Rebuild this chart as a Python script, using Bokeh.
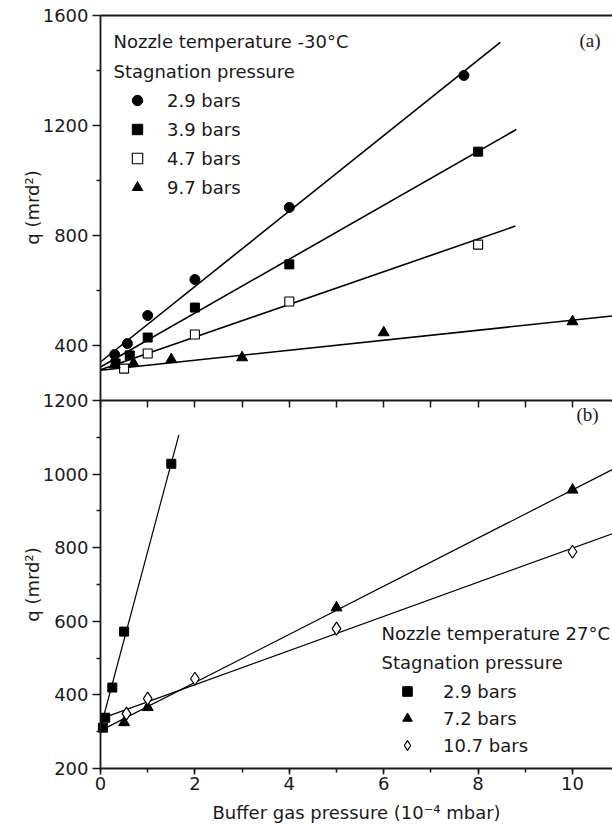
import numpy as np
from bokeh.plotting import figure
from bokeh.models import (Range1d, LinearAxis, FixedTicker, SingleIntervalTicker,
                          Legend, LegendItem, Label)
from bokeh.embed import file_html
from bokeh.resources import INLINE

# ---------------- data ----------------
# Panel (a): nozzle temperature -30 C
a29_x = [0.3, 0.57, 1.0, 2.0, 4.0, 7.7]
a29_y = [367, 407, 509, 640, 902, 1382]
a39_x = [0.32, 0.62, 1.0, 2.0, 4.0, 8.0]
a39_y = [335, 364, 429, 538, 695, 1105]
a47_x = [0.5, 1.0, 2.0, 4.0, 8.0]
a47_y = [316, 371, 440, 560, 767]
a97_x = [0.3, 0.7, 1.5, 3.0, 6.0, 10.0]
a97_y = [330, 335, 349, 356, 447, 487]
# linear fits (intercept, slope, x extent)
a_fit_int = [340, 322, 312, 310]
a_fit_slope = [137.2, 98.0, 59.4, 18.2]
a_fit_x0 = [0.0, 0.0, 0.0, 0.0]
a_fit_x1 = [8.47, 8.81, 8.79, 10.85]

# Panel (b): nozzle temperature 27 C
b29_x = [0.05, 0.1, 0.25, 0.5, 1.5]
b29_y = [311, 338, 420, 572, 1028]
b72_x = [0.5, 1.0, 5.0, 10.0]
b72_y = [325, 366, 637, 957]
b107_x = [0.55, 1.0, 2.0, 5.0, 10.0]
b107_y = [349, 390, 444, 580, 789]
b_fit_int = [310, 303, 335]
b_fit_slope = [480.0, 65.4, 46.4]
b_fit_x0 = [0.0, 0.0, 0.19]
b_fit_x1 = [1.66, 10.85, 10.85]

a_labels = ["2.9 bars", "3.9 bars", "4.7 bars", "9.7 bars"]
b_labels = ["2.9 bars", "7.2 bars", "10.7 bars"]

b_yticks = [200, 400, 600, 800, 1000, 1200]
b_yminor = [300, 500, 700, 900, 1100]
a_yticks = [400, 800, 1200, 1600]
a_yminor = [600, 1000, 1400]
x_mid_ticks = [0, 1, 2, 3, 4, 5, 6, 7, 8, 9, 10]
X_MAX = 10.85
A_RANGE = (200, 1600)
B_RANGE = (200, 1200)

# ---------------- geometry ----------------
FONT = "DejaVu Sans"
FS = "18px"
INK = "#1a1a1a"
W, H = 612, 824
X0_PX = 100      # pixel of x = 0
XPX = 47.2       # pixels per x unit
BOT_PX, MID_PX, TOP_PX = 768, 400, 15   # panel boundaries (from top)
sb = (BOT_PX - MID_PX) / (B_RANGE[1] - B_RANGE[0])
sa = (MID_PX - TOP_PX) / (A_RANGE[1] - A_RANGE[0])

p = figure(width=W, height=H, output_backend="svg", toolbar_location=None,
           x_range=Range1d(-X0_PX / XPX, (W - X0_PX) / XPX),
           y_range=Range1d(B_RANGE[0] - (H - BOT_PX) / sb, B_RANGE[0] + BOT_PX / sb),
           x_axis_location=None, y_axis_location=None, min_border=0)
p.extra_y_ranges = {"top": Range1d(A_RANGE[0] - (H - MID_PX) / sa, A_RANGE[0] + MID_PX / sa)}
p.grid.visible = False
p.outline_line_color = None


def style(ax):
    ax.axis_line_width = 1.8
    ax.axis_line_color = INK
    ax.major_tick_line_color = INK
    ax.minor_tick_line_color = INK
    ax.major_tick_line_width = 1.5
    ax.minor_tick_line_width = 1.5
    ax.major_tick_in = 0
    ax.minor_tick_in = 0
    ax.major_label_text_font = FONT
    ax.major_label_text_font_size = FS
    ax.major_label_text_color = INK
    return ax


# left axes, one per panel
ya = style(LinearAxis(fixed_location=0, y_range_name="top", bounds=A_RANGE,
                      ticker=FixedTicker(ticks=a_yticks, minor_ticks=a_yminor),
                      major_tick_out=8, minor_tick_out=4, major_label_standoff=4))
yb = style(LinearAxis(fixed_location=0, bounds=B_RANGE,
                      ticker=FixedTicker(ticks=b_yticks, minor_ticks=b_yminor),
                      major_tick_out=8, minor_tick_out=4, major_label_standoff=4))
p.add_layout(ya, "left")
p.add_layout(yb, "left")

# bottom axis
xb = style(LinearAxis(fixed_location=B_RANGE[0], bounds=(0, X_MAX),
                      ticker=SingleIntervalTicker(interval=2, num_minor_ticks=2),
                      major_tick_out=6, minor_tick_out=4, major_label_standoff=2))
p.add_layout(xb, "below")
# separating axis between the panels (ticks pointing down)
xm = style(LinearAxis(fixed_location=B_RANGE[1], bounds=(0, X_MAX),
                      ticker=FixedTicker(ticks=[], minor_ticks=x_mid_ticks),
                      major_tick_out=0, minor_tick_out=7))
p.add_layout(xm, "below")
# top frame line
xt = style(LinearAxis(fixed_location=A_RANGE[1], y_range_name="top", bounds=(0, X_MAX),
                      ticker=FixedTicker(ticks=[], minor_ticks=[]),
                      major_tick_out=0, minor_tick_out=0))
p.add_layout(xt, "above")

# ---------------- panel (a) ----------------
for i in range(4):
    xs = np.array([a_fit_x0[i], a_fit_x1[i]])
    p.line(xs, a_fit_int[i] + a_fit_slope[i] * xs, y_range_name="top",
           line_color="black", line_width=1.6)
ra1 = p.scatter(a29_x, a29_y, y_range_name="top", marker="circle", size=10,
                fill_color="black", line_color="black")
ra2 = p.scatter(a39_x, a39_y, y_range_name="top", marker="square", size=9,
                fill_color="black", line_color="black")
ra3 = p.scatter(a47_x, a47_y, y_range_name="top", marker="square", size=9,
                fill_color="white", line_color="black", line_width=1.1)
ra4 = p.scatter(a97_x, a97_y, y_range_name="top", marker="triangle", size=11,
                fill_color="black", line_color="black")

# ---------------- panel (b) ----------------
for i in range(3):
    xs = np.array([b_fit_x0[i], b_fit_x1[i]])
    p.line(xs, b_fit_int[i] + b_fit_slope[i] * xs, line_color="black", line_width=1.2)
rb1 = p.scatter(b29_x, b29_y, marker="square", size=9, fill_color="black", line_color="black")
rb2 = p.scatter(b72_x, b72_y, marker="triangle", size=11, fill_color="black", line_color="black")
rb3 = p.scatter(b107_x, b107_y, marker="diamond", size=13, fill_color="white",
                line_color="black", line_width=1.2)


# ---------------- legends ----------------
def add_legend(items, loc, lh, gw, stand):
    leg = Legend(items=items, location=loc, padding=0, spacing=3, margin=0,
                 label_height=lh, glyph_height=lh, glyph_width=gw, label_standoff=stand,
                 border_line_color=None, background_fill_alpha=0,
                 label_text_font=FONT, label_text_font_size=FS, label_text_color=INK)
    p.add_layout(leg)


add_legend([LegendItem(label=l, renderers=[r]) for l, r in zip(a_labels, [ra1, ra2, ra3, ra4])],
           (113, 624), 26, 48, 6)
add_legend([LegendItem(label=l, renderers=[r]) for l, r in zip(b_labels, [rb1, rb2, rb3])],
           (381, 67), 24, 52, 10)


def label(text, x, y, font=FONT, size=FS, **kw):
    p.add_layout(Label(text=text, x=x, y=y, x_units="screen", y_units="screen",
                       text_font=font, text_font_size=size, text_color=INK,
                       text_baseline="middle", **kw))


label("Nozzle temperature -30\u00b0C", 113, 783)
label("Stagnation pressure", 113, 753)
label("Nozzle temperature 27\u00b0C", 381, 191)
label("Stagnation pressure", 381, 162)
label("(a)", 579, 784, font="Liberation Serif", size="19px")
label("(b)", 576, 410, font="Liberation Serif", size="19px")
label("q (mrd\u00b2)", 32, 617, angle=np.pi / 2, text_align="center")
label("q (mrd\u00b2)", 32, 240, angle=np.pi / 2, text_align="center")
label("Buffer gas pressure (10\u207b\u2074 mbar)", 356, 12, text_align="center")

open("out.html", "w").write(file_html(p, INLINE))
